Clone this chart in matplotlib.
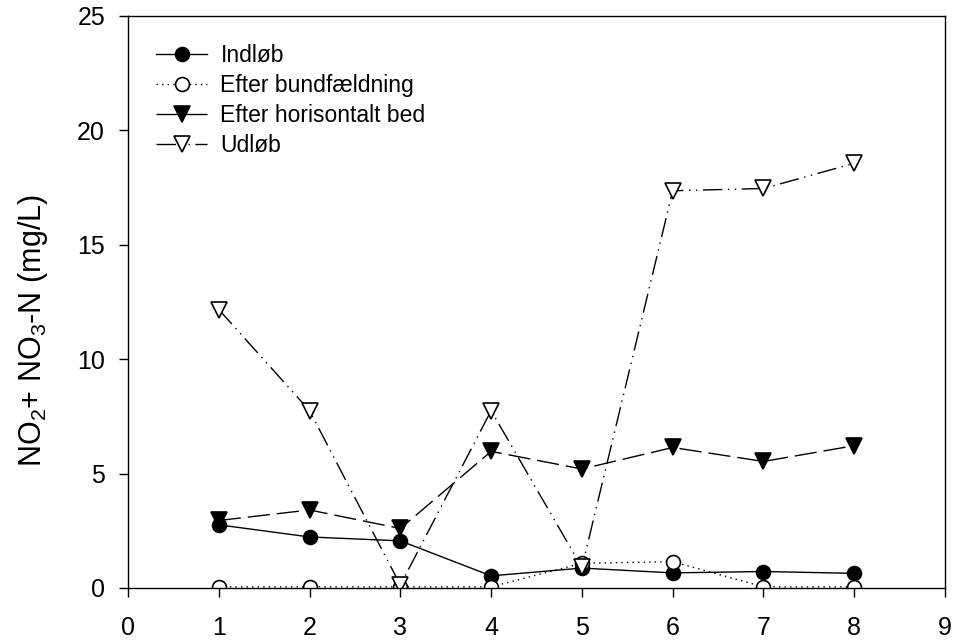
import matplotlib
matplotlib.use("Agg")
import matplotlib.pyplot as plt

# ---------------------------------
# Data
# ---------------------------------
samples = [1, 2, 3, 4, 5, 6, 7, 8]
indlob = [2.76, 2.23, 2.06, 0.53, 0.87, 0.66, 0.72, 0.64]
efter_bund = [0.05, 0.05, 0.05, 0.05, 1.08, 1.15, 0.05, 0.05]
efter_hor = [2.95, 3.41, 2.60, 5.97, 5.20, 6.14, 5.53, 6.22]
udlob = [12.17, 7.75, 0.13, 7.75, 0.90, 17.36, 17.46, 18.56]

labels = ["Indløb", "Efter bundfældning", "Efter horisontalt bed", "Udløb"]
x_ticks = list(range(0, 10))
y_ticks = [0, 5, 10, 15, 20, 25]

plt.rcParams['font.family'] = ['Liberation Sans', 'DejaVu Sans']
plt.rcParams['mathtext.default'] = 'regular'

fig = plt.figure(figsize=(9.61, 6.41), dpi=100)
ax = fig.add_axes([0.1332, 0.0827, 0.8502, 0.8924])

ms = 10
ax.plot(samples, indlob, color='black', lw=1.0, linestyle='-',
        marker='o', ms=ms, mfc='black', mec='black', mew=1.2, label=labels[0])
ax.plot(samples, efter_bund, color='black', lw=1.0, linestyle=(0, (1, 3)),
        marker='o', ms=ms, mfc='white', mec='black', mew=1.2, label=labels[1])
ax.plot(samples, efter_hor, color='black', lw=1.0, linestyle=(0, (16, 5)),
        marker='v', ms=ms + 1, mfc='black', mec='black', mew=1.2, label=labels[2])
ax.plot(samples, udlob, color='black', lw=1.0, linestyle=(0, (14, 4, 1, 4, 1, 4)),
        marker='v', ms=ms + 1, mfc='white', mec='black', mew=1.2, label=labels[3])

ax.set_xlim(0, 9)
ax.set_ylim(0, 25)
ax.set_xticks(x_ticks)
ax.set_yticks(y_ticks)
ax.tick_params(direction='out', length=6.5, width=1.0, labelsize=18)
ax.tick_params(axis='x', pad=14)
ax.tick_params(axis='y', pad=10)
for sp in ax.spines.values():
    sp.set_linewidth(1.0)

ax.set_ylabel(r'NO$_2$+ NO$_3$-N (mg/L)', fontsize=22)
ax.yaxis.set_label_coords(-0.095, 0.45)

ax.legend(loc='upper left', bbox_to_anchor=(0.015, 0.979), frameon=False,
          fontsize=16.5, handlelength=2.2, handletextpad=0.6, labelspacing=0.3,
          borderaxespad=0.3)

fig.savefig("out.png", dpi=100)
